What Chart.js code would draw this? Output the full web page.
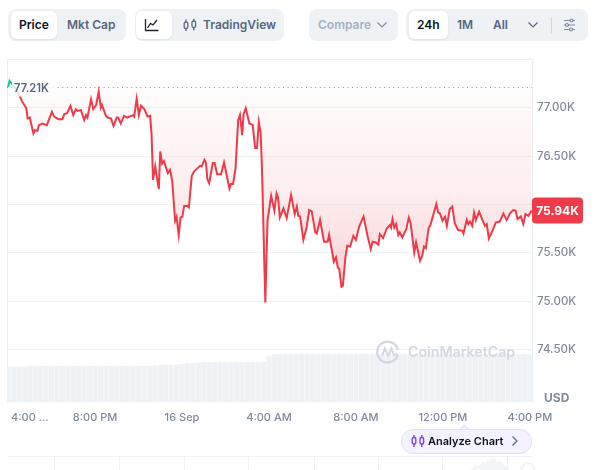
<!DOCTYPE html>
<html>
<head>
<meta charset="utf-8">
<title>Bitcoin price</title>
<script src="https://cdn.jsdelivr.net/npm/chart.js@4/dist/chart.umd.min.js"></script>
<style>
html,body{margin:0;padding:0;background:#fff;width:596px;height:470px;overflow:hidden;font-family:Inter,"Noto Sans",sans-serif;}
.abs{position:absolute;}
.group{position:absolute;top:9px;height:32px;background:#eff2f5;border-radius:8px;}
.on{position:absolute;top:11px;height:28px;background:#fff;border-radius:6px;box-shadow:0 1px 2px rgba(88,102,126,.12);}
.txt{position:absolute;top:9px;height:32px;line-height:32px;font-size:12px;font-weight:600;color:#58667e;white-space:nowrap;}
#chartBox{position:absolute;left:0;top:58px;width:596px;height:372px;}
#usd{position:absolute;left:544px;top:390px;font-size:12px;line-height:15px;font-weight:700;color:#808a9d;}
#mark{position:absolute;left:408px;top:341px;font-size:14.2px;line-height:22px;font-weight:600;color:#d3d9e3;}
#pill{position:absolute;left:401px;top:429px;width:129px;height:23px;background:#f4f2fe;border:1px solid #e3dffb;border-radius:12px;}
#navTop{position:absolute;left:7px;top:456px;width:525px;height:1px;background:#eff2f5;}
.navTick{position:absolute;top:456px;width:1px;height:14px;background:#eff2f5;}
#navBox{position:absolute;left:7px;top:457px;width:525px;height:13px;}
</style>
</head>
<body>

<div class="group" style="left:8px;width:118px"></div>
<div class="on" style="left:11px;width:46px"></div>
<div class="txt" style="left:19px;color:#0d1421">Price</div>
<div class="txt" style="left:67px">Mkt Cap</div>

<div class="group" style="left:135px;width:149px"></div>
<div class="on" style="left:136px;width:36px"></div>
<svg class="abs" style="left:144px;top:18px" width="15" height="14" fill="none" stroke="#222531" stroke-width="1.3">
  <path d="M1.5 1v11.5h13"/><path d="M3.5 10l3-4.5 2.5 1.5 4-5"/>
</svg>
<svg class="abs" style="left:183px;top:18px" width="14" height="14" fill="none" stroke="#58667e" stroke-width="1.3">
  <rect x="1.2" y="4" width="3.6" height="6.5" rx="1.5"/><path d="M3 1.5V4M3 10.5V13"/>
  <rect x="9" y="3" width="3.6" height="6.5" rx="1.5"/><path d="M10.8 .8V3M10.8 9.5V12.5"/>
</svg>
<div class="txt" style="left:203px">TradingView</div>

<div class="group" style="left:309px;width:89px"></div>
<div class="txt" style="left:318px;color:#a6b0c3">Compare</div>
<svg class="abs" style="left:376px;top:21px" width="12" height="8" fill="none" stroke="#808a9d" stroke-width="1.2"><path d="M1.5 1.5l4.5 4.5 4.5-4.5"/></svg>

<div class="group" style="left:406px;width:182px"></div>
<div class="on" style="left:409px;width:39px"></div>
<div class="txt" style="left:417px;color:#0d1421">24h</div>
<div class="txt" style="left:457px">1M</div>
<div class="txt" style="left:493px">All</div>
<svg class="abs" style="left:527px;top:21px" width="12" height="8" fill="none" stroke="#58667e" stroke-width="1.2"><path d="M1.5 1.5l4.5 4.5 4.5-4.5"/></svg>
<div class="abs" style="left:551px;top:17px;width:1px;height:16px;background:#cfd6e4"></div>
<svg class="abs" style="left:563px;top:18px" width="13" height="14" fill="none" stroke="#808a9d" stroke-width="1.2">
  <path d="M1 2.5h11M1 7h11M1 11.5h11"/>
  <circle cx="8.5" cy="2.5" r="1.5" fill="#eff2f5"/><circle cx="4" cy="7" r="1.5" fill="#eff2f5"/><circle cx="8" cy="11.5" r="1.5" fill="#eff2f5"/>
</svg>

<div id="chartBox"><canvas id="priceChart" width="596" height="372"></canvas></div>

<svg class="abs" style="left:376px;top:340px" width="24" height="24" fill="none" stroke="#d3d9e3" stroke-width="2.4">
  <path d="M21.8 14.2A10.4 10.4 0 1 1 21.8 10"/>
  <path d="M6 16l2.8-7.5 3.4 7 3.4-7 2.2 6.5 3-1.2" stroke-width="2"/>
</svg>
<div id="mark">CoinMarketCap</div>
<div id="usd">USD</div>

<div class="abs" style="left:461px;top:426px;width:6px;height:6px;background:#f4f2fe;border-left:1px solid #e3dffb;border-top:1px solid #e3dffb;transform:rotate(45deg)"></div>
<div id="pill"></div>
<svg class="abs" style="left:411px;top:434px" width="14" height="14" fill="none" stroke="#7b3ff2" stroke-width="1.4">
  <rect x="1.2" y="3.5" width="3.6" height="6.5" rx="1.5"/><path d="M3 1v2.5M3 10v3"/>
  <rect x="9" y="3.5" width="3.6" height="6.5" rx="1.5"/><path d="M10.8 1v2.5M10.8 10v3"/>
</svg>
<div class="abs" style="left:428px;top:429px;line-height:25px;font-size:11px;font-weight:600;color:#0d1421">Analyze Chart</div>
<svg class="abs" style="left:511px;top:435px" width="8" height="12" fill="none" stroke="#58667e" stroke-width="1.2"><path d="M1.5 1.5l4.5 4.5-4.5 4.5"/></svg>

<div id="navTop"></div>
<div id="navBox"><canvas id="navChart" width="525" height="13"></canvas></div>
<div class="navTick" style="left:54px"></div>
<div class="navTick" style="left:119px"></div>
<div class="navTick" style="left:184px"></div>
<div class="navTick" style="left:248px"></div>
<div class="navTick" style="left:314px"></div>
<div class="navTick" style="left:378px"></div>
<div class="navTick" style="left:442px"></div>
<div class="navTick" style="left:507px"></div>
<div class="abs" style="left:523px;top:464px;width:10px;height:10px;background:#fff;border-radius:50%;box-shadow:0 0 4px rgba(88,102,126,.25)"></div>

<script>
var base_price = 77210;
var last_price = 75940;
var x_min = -3;
var x_max = 1446;

// minutes after 4:00 PM
var price_minutes = [
  0,4,11,25,38,46,50,54,60,65,70,74,81,85,95,107,121,127,139,150,155,163,172,180,187,192,201,210,215,219,
  229,235,243,250,256,259,270,275,284,291,300,304,311,320,329,345,348,355,361,367,376,385,392,396,400,406,416,420,425,430,
  441,447,453,461,465,471,476,481,486,494,499,507,513,530,534,542,546,550,555,565,570,577,588,596,611,615,621,628,635,640,
  646,650,656,666,675,682,687,692,697,700,702,707,710,716,726,735,741,745,750,760,769,781,791,797,801,806,815,824,831,838,
  848,852,861,872,882,886,899,905,910,914,920,924,931,936,944,953,960,969,981,992,1001,1006,1015,1022,1026,1035,1045,1054,1057,1061,
  1066,1071,1077,1081,1088,1099,1106,1111,1121,1126,1137,1143,1148,1153,1161,1165,1182,1187,1192,1199,1206,1211,1219,1226,1233,1242,1254,1257,1266,1270,
  1275,1281,1286,1291,1300,1316,1321,1327,1339,1346,1357,1367,1376,1385,1394,1401,1406,1415,1422,1428,1436,1445
];
var price_values = [
  77217,77279,77248,77176,77072,77021,76997,76889,76900,76814,76735,76770,76762,76821,76838,76821,76959,76910,76883,76883,76935,76945,77021,76925,76987,76969,76979,76873,76925,76900,
  77090,76987,77028,77168,77003,77031,76917,76900,76889,76814,76900,76900,76838,76917,76900,76925,76910,77096,76925,77021,76987,76910,76917,76728,76256,76394,76160,76549,76425,76452,
  76325,76360,76246,75833,75874,75685,75867,75874,75987,75987,75970,76298,76342,76401,76394,76463,76435,76263,76222,76429,76429,76315,76315,76435,76166,76212,76212,76383,76873,76928,
  76718,76935,76997,76838,76824,76584,76584,76855,76745,76452,76194,75420,74989,75833,76091,75936,76115,76073,75867,75960,75861,76101,75902,75980,75884,75877,75636,75763,75943,75929,
  75712,75701,75843,75616,75616,75688,75409,75454,75350,75334,75151,75161,75454,75574,75567,75678,75636,75774,75877,75678,75540,75616,75609,75585,75695,75654,75753,75788,75763,75850,
  75763,75799,75685,75712,75660,75747,75867,75809,75505,75609,75419,75471,75567,75550,75763,75781,76005,75918,75908,75833,75874,75781,75954,75980,75805,75737,75729,75701,75843,75799,
  75825,75781,75918,75840,75926,75781,75799,75650,75747,75815,75825,75908,75840,75908,75943,75936,75850,75877,75799,75902,75884,75940
];

// one bar every 15 minutes
var volume_minutes = [
  0,15,30,45,60,75,90,105,120,135,150,165,180,195,210,225,240,255,270,285,300,315,330,345,360,375,390,405,420,435,450,465,480,
  495,510,525,540,555,570,585,600,615,630,645,660,675,690,705,720,735,750,765,780,795,810,825,840,855,870,885,900,915,930,945,
  960,975,990,1005,1020,1035,1050,1065,1080,1095,1110,1125,1140,1155,1170,1185,1200,1215,1230,1245,1260,1275,1290,1305,1320,1335,1350,1365,1380,1395,1410,1425,1440
];
var volume_values = [
  34.3,34.3,34.4,34.4,34.9,35,35,35,35,35,35,35,35,35,35,35,35,35,35,35,35,35,35,35.1,35.1,35.1,35.1,35.2,35.8,36,36,36.2,36.8,
  37.7,37.8,38.2,38.7,38.8,38.8,38.9,38.9,38.9,38.9,38.7,38.8,38.8,38.9,39,44.3,46.2,46.6,46.7,46.7,46.8,46.8,46.7,46.7,46.7,46.6,46.7,46.7,46.6,46.7,46.7,
  46.7,46.6,46.7,46.7,46.6,46.6,46.7,46.6,46.6,46.7,46.6,46.6,46.6,46.6,46.6,46.6,46.6,46.5,46.6,46.6,46.5,46.5,46.6,46.5,46.5,46.5,46.4,46.4,46.4,46.3,46.3,46.3,46.3
];

var y_ticks = [77000,76500,76000,75500,75000,74500];
var x_tick_minutes = [60,240,480,720,960,1200,1440];
var x_tick_labels = ["4:00 ...","8:00 PM","16 Sep","4:00 AM","8:00 AM","12:00 PM","4:00 PM"];

var nav_values = [0,0,2,4,3,5,7,6,9,8,10,9,7,8,5,4,2,0];

function formatK(v){
    return (v / 1000).toFixed(2) + "K";
}

var price_points = price_minutes.map(function(m, i){ return {x: m, y: price_values[i]}; });
var volume_points = volume_minutes.map(function(m, i){ return {x: m, y: volume_values[i]}; });

var framePlugin = {
    id: "frame",
    beforeDraw: function(chart){
        var a = chart.chartArea, c = chart.ctx;
        c.save();
        c.strokeStyle = "#eaedf1";
        c.lineWidth = 1;
        c.beginPath();
        c.moveTo(a.left + 0.5, a.bottom);
        c.lineTo(a.left + 0.5, a.top + 0.5);
        c.lineTo(a.right + 0.5, a.top + 0.5);
        c.lineTo(a.right + 0.5, a.bottom);
        c.stroke();
        c.restore();
    }
};

var labelsPlugin = {
    id: "priceLabels",
    afterDraw: function(chart){
        var c = chart.ctx, y = chart.scales.y, a = chart.chartArea;
        var baseY = y.getPixelForValue(base_price);
        var lastY = y.getPixelForValue(last_price);
        c.save();
        c.font = "600 11.2px Inter";
        c.textBaseline = "middle";
        c.textAlign = "left";
        c.fillStyle = "rgba(255,255,255,0.8)";
        c.fillRect(a.left + 5, baseY - 7, 44, 16);
        c.fillStyle = "#58667e";
        c.fillText(formatK(base_price), a.left + 7, baseY + 1.5);

        c.fillStyle = "#ee3a49";
        c.beginPath();
        c.roundRect(a.right, lastY - 13, 51, 26, 4);
        c.fill();
        c.fillStyle = "#fff";
        c.font = "700 12px Inter";
        c.textAlign = "center";
        c.fillText(formatK(last_price), a.right + 25.5, lastY + 0.5);
        c.restore();
    }
};

var chart = new Chart(document.getElementById("priceChart"), {
    data: {
        datasets: [{
            type: "line",
            label: "Price",
            data: price_points,
            borderColor: "#ee3a49",
            borderWidth: 2,
            pointRadius: 0,
            tension: 0,
            yAxisID: "y",
            order: 1,
            fill: {target: {value: base_price}, above: "rgba(22,199,132,0.12)", below: "rgba(234,57,67,0.08)"},
            segment: {
                borderColor: function(ctx){
                    return ctx.p0.parsed.y > base_price ? "#16c784" : "#ee3a49";
                }
            }
        }, {
            type: "line",
            label: "Open",
            data: [{x: x_min, y: base_price}, {x: x_max, y: base_price}],
            borderColor: "#8a94a6",
            borderWidth: 1,
            borderDash: [1, 3.6],
            pointRadius: 0,
            yAxisID: "y",
            order: 2
        }, {
            type: "bar",
            label: "Volume",
            data: volume_points,
            backgroundColor: "#eff2f5",
            barPercentage: 0.96,
            categoryPercentage: 1,
            yAxisID: "vol",
            order: 3
        }]
    },
    options: {
        responsive: false,
        animation: false,
        events: [],
        layout: {padding: {left: 7, right: 0, top: 0, bottom: 0}},
        plugins: {legend: {display: false}, tooltip: {enabled: false}},
        scales: {
            x: {
                type: "linear",
                offset: false,
                min: x_min,
                max: x_max,
                grid: {display: false},
                border: {display: false},
                afterBuildTicks: function(scale){
                    scale.ticks = x_tick_minutes.map(function(v){ return {value: v}; });
                },
                afterFit: function(scale){
                    scale.height = 28;
                    scale.paddingLeft = 0;
                    scale.paddingRight = 0;
                },
                ticks: {
                    autoSkip: false,
                    maxRotation: 0,
                    padding: 1,
                    color: "#808a9d",
                    font: {family: "Inter", size: 11, weight: "500"},
                    callback: function(v){
                        return x_tick_labels[x_tick_minutes.indexOf(v)];
                    }
                }
            },
            y: {
                position: "right",
                min: 73960,
                max: 77505,
                grid: {color: "#eff2f5", drawTicks: false},
                border: {display: false},
                afterBuildTicks: function(scale){
                    scale.ticks = y_ticks.map(function(v){ return {value: v}; });
                },
                afterFit: function(scale){
                    scale.width = 64;
                    scale.paddingTop = 0;
                    scale.paddingBottom = 0;
                },
                ticks: {
                    padding: 5,
                    color: "#808a9d",
                    font: {family: "Inter", size: 11.5, weight: "500"},
                    callback: formatK
                }
            },
            vol: {
                display: false,
                min: 0,
                max: 332
            }
        }
    },
    plugins: [framePlugin, labelsPlugin]
});

// fill gets stronger the further the price drops below the open
var yScale = chart.scales.y;
var grad = chart.ctx.createLinearGradient(0, yScale.getPixelForValue(base_price), 0, yScale.getPixelForValue(74989));
grad.addColorStop(0, "rgba(234,57,67,0.01)");
grad.addColorStop(0.5, "rgba(234,57,67,0.09)");
grad.addColorStop(0.75, "rgba(234,57,67,0.17)");
grad.addColorStop(1, "rgba(234,57,67,0.24)");
chart.data.datasets[0].fill.below = grad;
chart.update("none");

new Chart(document.getElementById("navChart"), {
    type: "line",
    data: {
        labels: nav_values.map(function(v, i){ return i; }),
        datasets: [{
            data: nav_values,
            borderWidth: 0,
            pointRadius: 0,
            fill: "origin",
            backgroundColor: "#f3f5f7"
        }]
    },
    options: {
        responsive: false,
        animation: false,
        events: [],
        layout: {padding: {left: 461, right: 22}},
        plugins: {legend: {display: false}, tooltip: {enabled: false}},
        scales: {
            x: {display: false},
            y: {display: false, min: 0, max: 11}
        }
    }
});
</script>
</body>
</html>
